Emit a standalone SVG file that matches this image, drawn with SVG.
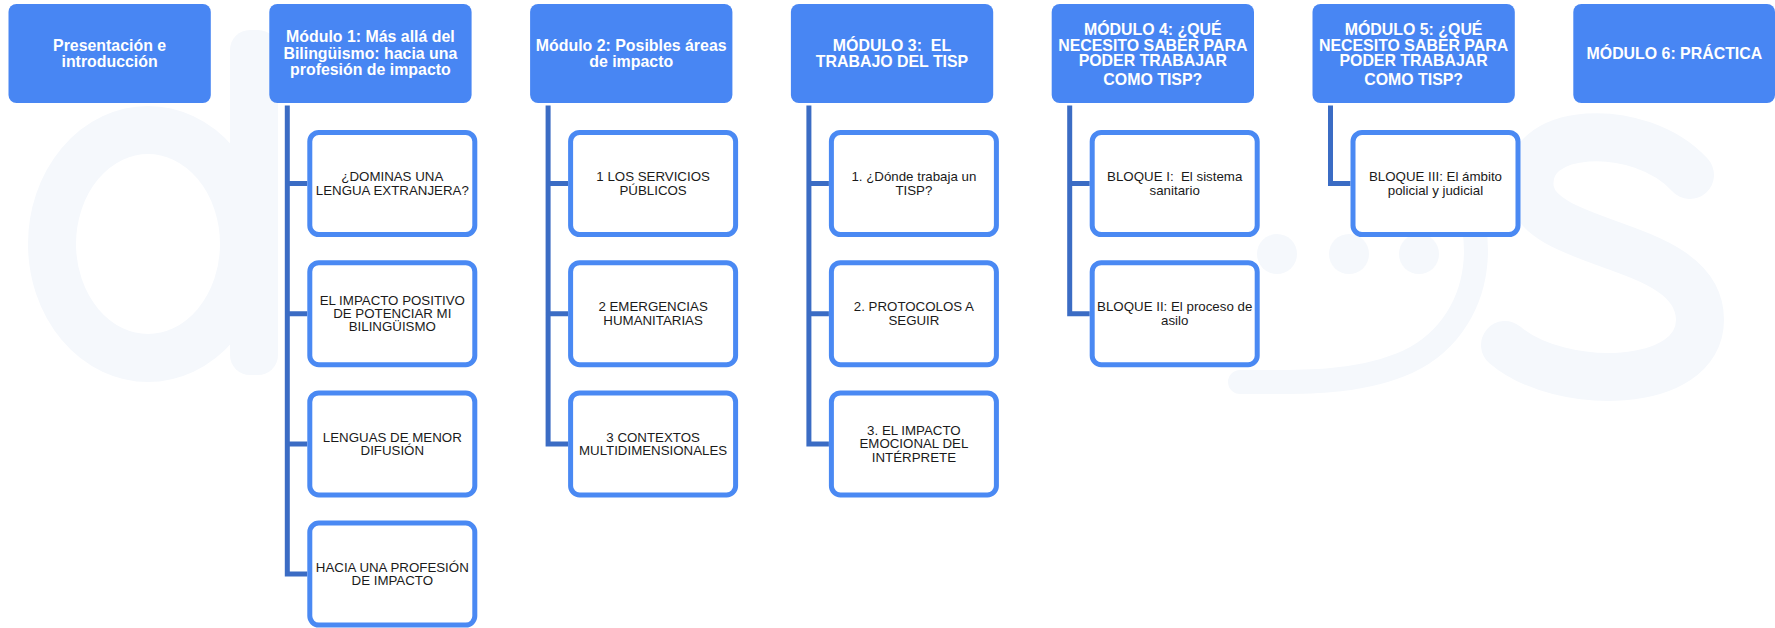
<svg xmlns="http://www.w3.org/2000/svg" width="1775" height="628" viewBox="0 0 1775 628">
<style>
.wm{fill:none;stroke:#f5f8fc;stroke-linecap:round}
.wmf{fill:#f5f8fc}
.top{fill:#4886f3}
.tt{font-family:"Liberation Sans",Arial,sans-serif;font-weight:bold;font-size:15.9px;fill:#ffffff;text-anchor:middle}
.child{fill:#ffffff;stroke:#4a89f3;stroke-width:5}
.ct{font-family:"Liberation Sans",Arial,sans-serif;font-size:13.3px;fill:#1a1a1a;text-anchor:middle}
.conn{fill:none;stroke:#3b6cc4;stroke-width:5;stroke-linecap:butt;stroke-linejoin:miter}
</style>
<rect width="1775" height="628" fill="#ffffff"/>
<g id="watermark">
  <ellipse class="wm" cx="148" cy="244" rx="96" ry="114" stroke-width="48"/>
  <rect class="wmf" x="230" y="30" width="48" height="345" rx="20"/>
  <circle class="wmf" cx="1277" cy="254" r="20"/>
  <circle class="wmf" cx="1349" cy="254" r="20"/>
  <circle class="wmf" cx="1419" cy="254" r="20"/>
  <path class="wm" stroke-width="24" d="M1430 150 C1500 210 1490 330 1400 365 C1350 385 1290 382 1240 382"/>
  <path class="wm" stroke-width="48" d="M1690 175 C1640 120 1520 125 1530 190 C1540 250 1700 240 1700 320 C1700 390 1560 392 1505 345"/>
</g>
<g id="connectors">
  <path class="conn" d="M287.3 105.5 V574.1 H307.3 M287.3 183.5 H307.3 M287.3 313.7 H307.3 M287.3 443.9 H307.3"/>
  <path class="conn" d="M548.1 105.5 V443.9 H568.1 M548.1 183.5 H568.1 M548.1 313.7 H568.1"/>
  <path class="conn" d="M808.9 105.5 V443.9 H828.9 M808.9 183.5 H828.9 M808.9 313.7 H828.9"/>
  <path class="conn" d="M1069.7 105.5 V313.7 H1089.7 M1069.7 183.5 H1089.7"/>
  <path class="conn" d="M1330.5 105.5 V183.5 H1350.5"/>
</g>
<g id="n0">
  <rect class="top" x="8.5" y="4" width="202.3" height="99" rx="8"/>
  <text class="tt"><tspan x="109.6" y="50.5">Presentación e</tspan><tspan x="109.6" y="67">introducción</tspan></text>
</g>
<g id="n1">
  <rect class="top" x="269.3" y="4" width="202.3" height="99" rx="8"/>
  <text class="tt"><tspan x="370.4" y="42">Módulo 1: Más allá del</tspan><tspan x="370.4" y="58.5">Bilingüismo: hacia una</tspan><tspan x="370.4" y="74.5">profesión de impacto</tspan></text>
</g>
<g id="n2">
  <rect class="top" x="530.1" y="4" width="202.3" height="99" rx="8"/>
  <text class="tt"><tspan x="631.2" y="50.5">Módulo 2: Posibles áreas</tspan><tspan x="631.2" y="66.5">de impacto</tspan></text>
</g>
<g id="n3">
  <rect class="top" x="790.9" y="4" width="202.3" height="99" rx="8"/>
  <text class="tt" xml:space="preserve"><tspan x="892" y="50.5">MÓDULO 3:  EL</tspan><tspan x="892" y="66.5">TRABAJO DEL TISP</tspan></text>
</g>
<g id="n4">
  <rect class="top" x="1051.7" y="4" width="202.3" height="99" rx="8"/>
  <text class="tt"><tspan x="1152.8" y="35">MÓDULO 4: ¿QUÉ</tspan><tspan x="1152.8" y="50.5">NECESITO SABER PARA</tspan><tspan x="1152.8" y="65.7">PODER TRABAJAR</tspan><tspan x="1152.8" y="85">COMO TISP?</tspan></text>
</g>
<g id="n5">
  <rect class="top" x="1312.5" y="4" width="202.3" height="99" rx="8"/>
  <text class="tt"><tspan x="1413.6" y="35">MÓDULO 5: ¿QUÉ</tspan><tspan x="1413.6" y="50.5">NECESITO SABER PARA</tspan><tspan x="1413.6" y="65.7">PODER TRABAJAR</tspan><tspan x="1413.6" y="85">COMO TISP?</tspan></text>
</g>
<g id="n6">
  <rect class="top" x="1573.3" y="4" width="201.7" height="99" rx="8"/>
  <text class="tt"><tspan x="1674.4" y="58.5">MÓDULO 6: PRÁCTICA</tspan></text>
</g>
<g id="n1a">
  <rect class="child" x="309.8" y="132.5" width="165" height="102" rx="9"/>
  <text class="ct"><tspan x="392.3" y="181.2">¿DOMINAS UNA</tspan><tspan x="392.3" y="194.5">LENGUA EXTRANJERA?</tspan></text>
</g>
<g id="n1b">
  <rect class="child" x="309.8" y="262.7" width="165" height="102" rx="9"/>
  <text class="ct"><tspan x="392.3" y="304.7">EL IMPACTO POSITIVO</tspan><tspan x="392.3" y="318">DE POTENCIAR MI</tspan><tspan x="392.3" y="331.3">BILINGÜISMO</tspan></text>
</g>
<g id="n1c">
  <rect class="child" x="309.8" y="392.9" width="165" height="102" rx="9"/>
  <text class="ct"><tspan x="392.3" y="441.6">LENGUAS DE MENOR</tspan><tspan x="392.3" y="454.9">DIFUSIÓN</tspan></text>
</g>
<g id="n1d">
  <rect class="child" x="309.8" y="523.1" width="165" height="102" rx="9"/>
  <text class="ct"><tspan x="392.3" y="571.8">HACIA UNA PROFESIÓN</tspan><tspan x="392.3" y="585.1">DE IMPACTO</tspan></text>
</g>
<g id="n2a">
  <rect class="child" x="570.6" y="132.5" width="165" height="102" rx="9"/>
  <text class="ct"><tspan x="653.1" y="181.2">1 LOS SERVICIOS</tspan><tspan x="653.1" y="194.5">PÚBLICOS</tspan></text>
</g>
<g id="n2b">
  <rect class="child" x="570.6" y="262.7" width="165" height="102" rx="9"/>
  <text class="ct"><tspan x="653.1" y="311.4">2 EMERGENCIAS</tspan><tspan x="653.1" y="324.7">HUMANITARIAS</tspan></text>
</g>
<g id="n2c">
  <rect class="child" x="570.6" y="392.9" width="165" height="102" rx="9"/>
  <text class="ct"><tspan x="653.1" y="441.6">3 CONTEXTOS</tspan><tspan x="653.1" y="454.9">MULTIDIMENSIONALES</tspan></text>
</g>
<g id="n3a">
  <rect class="child" x="831.4" y="132.5" width="165" height="102" rx="9"/>
  <text class="ct"><tspan x="913.9" y="181.2">1. ¿Dónde trabaja un</tspan><tspan x="913.9" y="194.5">TISP?</tspan></text>
</g>
<g id="n3b">
  <rect class="child" x="831.4" y="262.7" width="165" height="102" rx="9"/>
  <text class="ct"><tspan x="913.9" y="311.4">2. PROTOCOLOS A</tspan><tspan x="913.9" y="324.7">SEGUIR</tspan></text>
</g>
<g id="n3c">
  <rect class="child" x="831.4" y="392.9" width="165" height="102" rx="9"/>
  <text class="ct"><tspan x="913.9" y="434.9">3. EL IMPACTO</tspan><tspan x="913.9" y="448.2">EMOCIONAL DEL</tspan><tspan x="913.9" y="461.5">INTÉRPRETE</tspan></text>
</g>
<g id="n4a">
  <rect class="child" x="1092.2" y="132.5" width="165" height="102" rx="9"/>
  <text class="ct" xml:space="preserve"><tspan x="1174.7" y="181.2">BLOQUE I:  El sistema</tspan><tspan x="1174.7" y="194.5">sanitario</tspan></text>
</g>
<g id="n4b">
  <rect class="child" x="1092.2" y="262.7" width="165" height="102" rx="9"/>
  <text class="ct"><tspan x="1174.7" y="311.4">BLOQUE II: El proceso de</tspan><tspan x="1174.7" y="324.7">asilo</tspan></text>
</g>
<g id="n5a">
  <rect class="child" x="1353" y="132.5" width="165" height="102" rx="9"/>
  <text class="ct"><tspan x="1435.5" y="181.2">BLOQUE III: El ámbito</tspan><tspan x="1435.5" y="194.5">policial y judicial</tspan></text>
</g>
</svg>
